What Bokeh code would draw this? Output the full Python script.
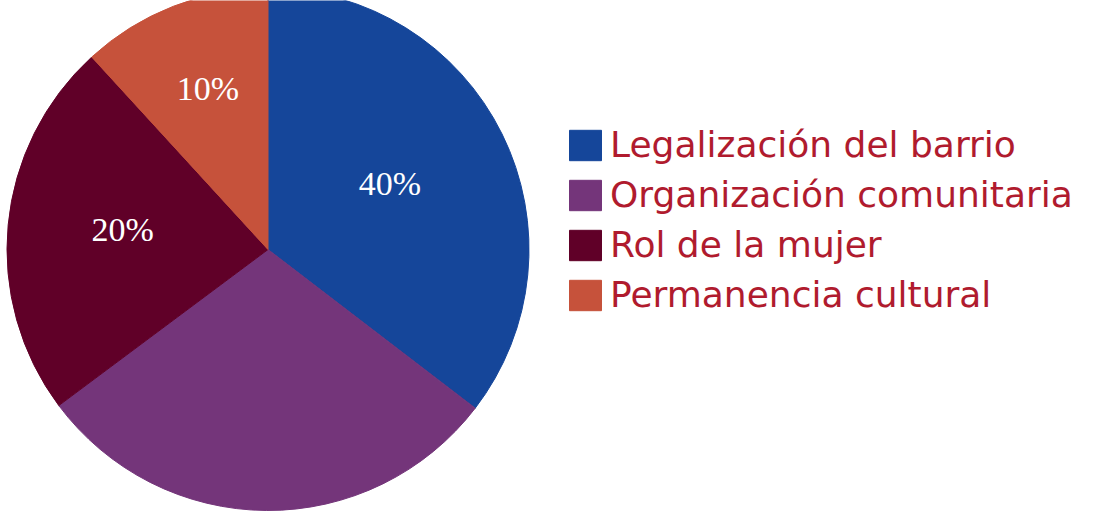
import math
from bokeh.plotting import figure
from bokeh.models import ColumnDataSource, Range1d, Legend, LegendItem
from bokeh.core.properties import value
from bokeh.embed import file_html
from bokeh.resources import INLINE

# ---- data ----
categories = ["Legalización del barrio", "Organización comunitaria",
              "Rol de la mujer", "Permanencia cultural"]
values = [35.4, 29.4, 23.4, 11.8]          # slice sizes as drawn
labels = ["40%", "", "20%", "10%"]          # printed labels
colors = ["#15469A", "#74357A", "#600028", "#C6523B"]

# ---- layout ----
W, H = 1116, 520
cx, cy, R = 267.5, H - 249, 261
label_r = [136, 0, 146, 166]

total = sum(values)
starts, ends, lx, ly = [], [], [], []
cum = 0.0
for v, lr in zip(values, label_r):
    a0 = math.pi / 2 - 2 * math.pi * cum / total
    cum += v
    a1 = math.pi / 2 - 2 * math.pi * cum / total
    starts.append(a0)
    ends.append(a1)
    mid = (a0 + a1) / 2
    lx.append(cx + lr * math.cos(mid))
    ly.append(cy + lr * math.sin(mid))

src = ColumnDataSource(dict(cat=categories, val=values, start=starts, end=ends,
                            color=colors, lx=lx, ly=ly, lab=labels))

p = figure(width=W, height=H, x_range=Range1d(0, W), y_range=Range1d(0, H),
           output_backend="svg", toolbar_location=None, min_border=0,
           x_axis_location=None, y_axis_location=None)
p.grid.visible = False
p.outline_line_color = None

r = p.wedge(x=cx, y=cy, radius=R, start_angle="start", end_angle="end",
            direction="clock", fill_color="color", line_color="color",
            line_width=1, source=src)

p.text(x="lx", y="ly", text="lab", source=src, text_align="center",
       text_baseline="middle", text_color="white", y_offset=-6,
       text_font=value("Liberation Serif"), text_font_size="34px")

items = [LegendItem(label=c, renderers=[r], index=i) for i, c in enumerate(categories)]
legend = Legend(items=items, location=(565, 205), orientation="vertical",
                label_text_color="#B01B2E", label_text_font="DejaVu Sans",
                label_text_font_size="36px", glyph_width=40, glyph_height=38,
                label_standoff=5, spacing=9, padding=0, margin=0,
                border_line_color=None, background_fill_alpha=0)
p.add_layout(legend, "center")

open("out.html", "w").write(file_html(p, INLINE))
